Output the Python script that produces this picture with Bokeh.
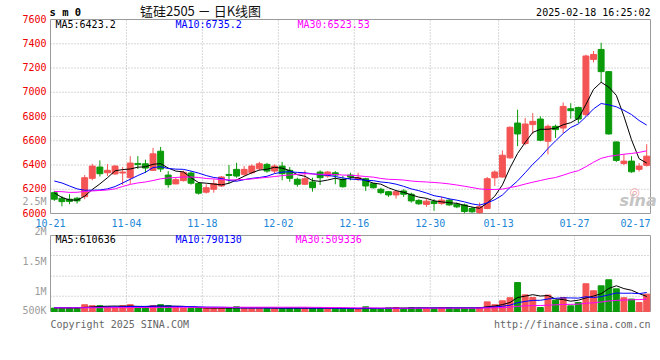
from bokeh.plotting import figure
from bokeh.models import Range1d, Label, ColumnDataSource
from bokeh.embed import file_html
from bokeh.resources import INLINE
from bokeh.core.properties import value

# ---------------- data ----------------
dates = ["10-21", "10-22", "10-23", "10-24", "10-25", "10-28", "10-29", "10-30", "10-31", "11-01",
         "11-04", "11-05", "11-06", "11-07", "11-08", "11-11", "11-12", "11-13", "11-14", "11-15",
         "11-18", "11-19", "11-20", "11-21", "11-22", "11-25", "11-26", "11-27", "11-28", "11-29",
         "12-02", "12-03", "12-04", "12-05", "12-06", "12-09", "12-10", "12-11", "12-12", "12-13",
         "12-16", "12-17", "12-18", "12-19", "12-20", "12-23", "12-24", "12-25", "12-26", "12-27",
         "12-30", "12-31", "01-02", "01-03", "01-06", "01-07", "01-08", "01-09", "01-10",
         "01-13", "01-14", "01-15", "01-16", "01-17", "01-20", "01-21", "01-22", "01-23", "01-24",
         "01-27", "02-05", "02-06", "02-07", "02-10", "02-11", "02-12", "02-13", "02-14", "02-17"]

opens = [6172, 6126, 6118, 6126, 6139, 6290, 6383, 6336, 6326, 6334,
         6295, 6413, 6410, 6356, 6514, 6317, 6244, 6271, 6334, 6248,
         6176, 6200, 6227, 6322, 6364, 6323, 6336, 6369, 6405, 6350,
         6391, 6356, 6282, 6241, 6260, 6342, 6309, 6336, 6282, 6317,
         6282, 6287, 6246, 6200, 6180, 6153, 6186, 6159, 6108, 6075,
         6098, 6082, 6110, 6077, 6071, 6041, 6008, 6041, 6295,
         6301, 6459, 6746, 6577, 6733, 6779, 6596, 6719, 6705, 6864,
         6875, 6815, 7271, 7353, 7170, 6590, 6412, 6432, 6364, 6397]
highs = [6186, 6145, 6159, 6137, 6317, 6410, 6438, 6408, 6399, 6383,
         6473, 6473, 6444, 6541, 6549, 6350, 6301, 6354, 6348, 6260,
         6241, 6282, 6309, 6400, 6418, 6391, 6405, 6426, 6418, 6405,
         6426, 6383, 6295, 6356, 6295, 6356, 6350, 6350, 6309, 6336,
         6336, 6295, 6252, 6213, 6186, 6186, 6200, 6172, 6118, 6123,
         6118, 6139, 6123, 6090, 6082, 6055, 6090, 6301, 6356,
         6520, 6719, 6856, 6787, 6828, 6801, 6733, 6733, 6916, 6910,
         6880, 7310, 7340, 7408, 7175, 6595, 6490, 6473, 6416, 6572]
lows = [6104, 6059, 6077, 6082, 6118, 6274, 6305, 6309, 6321, 6235,
        6244, 6367, 6334, 6350, 6342, 6213, 6241, 6264, 6238, 6156,
        6164, 6172, 6219, 6250, 6295, 6309, 6323, 6356, 6336, 6328,
        6274, 6262, 6221, 6236, 6180, 6235, 6295, 6241, 6213, 6274,
        6268, 6186, 6205, 6159, 6137, 6123, 6137, 6090, 6071, 6055,
        6022, 6071, 6063, 6044, 6003, 6005, 5998, 6036, 6227,
        6295, 6451, 6555, 6563, 6656, 6596, 6487, 6623, 6664, 6782,
        6746, 6801, 7246, 7082, 6651, 6426, 6399, 6336, 6346, 6387]
closes = [6118, 6098, 6100, 6104, 6295, 6391, 6328, 6356, 6391, 6342,
          6416, 6403, 6375, 6492, 6367, 6238, 6279, 6340, 6250, 6168,
          6213, 6246, 6301, 6314, 6309, 6364, 6391, 6410, 6350, 6391,
          6328, 6290, 6241, 6287, 6213, 6295, 6342, 6317, 6221, 6301,
          6295, 6227, 6213, 6172, 6153, 6180, 6159, 6104, 6080, 6102,
          6082, 6110, 6071, 6055, 6016, 6014, 6057, 6287, 6342,
          6481, 6711, 6656, 6738, 6760, 6604, 6719, 6692, 6883, 6848,
          6779, 7299, 7312, 7170, 6656, 6438, 6432, 6344, 6391, 6473]

ma5 = [6170, 6132, 6112, 6110, 6143, 6198, 6244, 6295, 6352, 6362,
       6367, 6382, 6385, 6406, 6411, 6375, 6350, 6343, 6295, 6255,
       6250, 6243, 6236, 6249, 6277, 6307, 6336, 6358, 6365, 6381,
       6374, 6354, 6320, 6307, 6272, 6265, 6276, 6291, 6278, 6295,
       6295, 6272, 6251, 6242, 6212, 6189, 6175, 6154, 6135, 6125,
       6105, 6096, 6089, 6084, 6067, 6053, 6043, 6086, 6143,
       6236, 6376, 6495, 6586, 6669, 6694, 6695, 6703, 6732, 6749,
       6784, 6900, 7024, 7082, 7043, 6975, 6802, 6608, 6452, 6416]
ma10 = [6268, 6252, 6227, 6203, 6192, 6192, 6194, 6203, 6222, 6252,
        6282, 6313, 6340, 6379, 6386, 6371, 6366, 6364, 6350, 6333,
        6313, 6297, 6289, 6272, 6266, 6279, 6290, 6297, 6307, 6329,
        6341, 6345, 6339, 6336, 6327, 6320, 6315, 6305, 6293, 6284,
        6280, 6274, 6271, 6260, 6254, 6242, 6224, 6203, 6188, 6169,
        6147, 6136, 6121, 6110, 6096, 6079, 6069, 6087, 6114,
        6152, 6214, 6269, 6336, 6406, 6465, 6536, 6599, 6659, 6709,
        6739, 6798, 6863, 6907, 6896, 6880, 6851, 6816, 6767, 6729]
ma30 = [6182, 6180, 6174, 6175, 6182, 6186, 6190, 6194, 6203, 6223,
        6240, 6252, 6260, 6272, 6286, 6293, 6297, 6301, 6301, 6297,
        6289, 6285, 6280, 6277, 6278, 6280, 6285, 6292, 6298, 6305,
        6312, 6318, 6323, 6329, 6326, 6323, 6323, 6322, 6317, 6315,
        6311, 6305, 6300, 6289, 6282, 6280, 6276, 6268, 6263, 6260,
        6256, 6251, 6244, 6235, 6225, 6214, 6203, 6198, 6198,
        6201, 6214, 6226, 6243, 6258, 6272, 6286, 6297, 6316, 6337,
        6353, 6386, 6423, 6455, 6471, 6480, 6489, 6495, 6504, 6517]

volumes = [140000, 140000, 140000, 140000, 280000, 240000, 240000, 195000, 175000, 240000,
           280000, 165000, 165000, 240000, 280000, 240000, 165000, 140000, 140000, 140000,
           140000, 140000, 140000, 140000, 195000, 140000, 140000, 140000, 140000, 140000,
           125000, 140000, 140000, 140000, 140000, 150000, 150000, 100000, 100000, 110000,
           110000, 195000, 110000, 110000, 150000, 165000, 140000, 165000, 140000, 140000,
           140000, 165000, 165000, 140000, 140000, 140000, 165000, 400000, 280000,
           445000, 570000, 1200000, 690000, 580000, 165000, 680000, 473000, 580000, 236000,
           373000, 1150000, 860000, 1065000, 1315000, 940000, 570000, 515000, 373000, 720000]
vol_ma5 = [150000, 150000, 145000, 145000, 168000, 188000, 208000, 219000, 226000, 218000,
           226000, 211000, 205000, 218000, 226000, 218000, 218000, 213000, 193000, 165000,
           145000, 140000, 140000, 140000, 151000, 151000, 151000, 151000, 151000, 140000,
           137000, 137000, 137000, 137000, 137000, 142000, 144000, 136000, 128000, 122000,
           114000, 123000, 125000, 127000, 135000, 146000, 135000, 146000, 152000, 150000,
           145000, 150000, 150000, 150000, 150000, 150000, 150000, 197000, 225000,
           286000, 372000, 579000, 637000, 697000, 641000, 663000, 518000, 496000, 427000,
           468000, 562000, 640000, 737000, 953000, 1066000, 950000, 881000, 743000, 624000]
vol_ma10 = [160000, 160000, 160000, 162000, 165000, 170000, 178000, 185000, 190000, 193000,
            207000, 210000, 212000, 222000, 222000, 222000, 215000, 209000, 206000, 196000,
            182000, 179000, 177000, 167000, 158000, 148000, 146000, 146000, 146000, 146000,
            144000, 144000, 144000, 144000, 139000, 140000, 141000, 137000, 133000, 130000,
            128000, 134000, 131000, 128000, 129000, 130000, 129000, 136000, 140000, 143000,
            146000, 143000, 148000, 151000, 150000, 148000, 150000, 174000, 188000,
            218000, 261000, 365000, 417000, 461000, 464000, 518000, 548000, 566000, 562000,
            555000, 613000, 579000, 616000, 690000, 767000, 756000, 760000, 740000, 788000]
vol_ma30 = [150000, 150000, 150000, 152000, 154000, 155000, 157000, 158000, 160000, 162000,
            163000, 165000, 166000, 168000, 170000, 170000, 171000, 172000, 173000, 174000,
            174000, 175000, 175000, 176000, 176000, 177000, 177000, 178000, 178000, 178000,
            178000, 178000, 178000, 178000, 173000, 170000, 167000, 164000, 161000, 157000,
            151000, 152000, 150000, 146000, 142000, 139000, 138000, 139000, 139000, 139000,
            139000, 140000, 141000, 141000, 139000, 139000, 140000, 149000, 153000,
            163000, 178000, 214000, 232000, 247000, 247000, 265000, 276000, 292000, 296000,
            305000, 340000, 362000, 394000, 434000, 460000, 474000, 486000, 493000, 513000]

price_ticks = [6000, 6200, 6400, 6600, 6800, 7000, 7200, 7400, 7600]
date_ticks = ["10-21", "11-04", "11-18", "12-02", "12-16", "12-30", "01-13", "01-27"]
last_date_label = "02-17"
vol_axis_labels = ["2.5M", "2M", "1.5M", "1M", "500K"]
vol_max = 3150000
vol_grid_values = [634000, 1463000, 2321000]

symbol_text = "s m 0"
title_text = "锰硅2505 － 日K线图"
time_text = "2025-02-18 16:25:02"
price_legend = ["MA5:6423.2", "MA10:6735.2", "MA30:6523.53"]
vol_legend = ["MA5:610636", "MA10:790130", "MA30:509336"]
copyright_text = "Copyright 2025 SINA.COM"
url_text = "http://finance.sina.com.cn"

# ---------------- layout / styling ----------------
W, H = 656, 340
PX_L, PX_R = 50, 650        # panel left / right edge (px)
P_TOP, P_BOT = 19, 213      # price panel top / bottom (px)
V_TOP, V_BOT = 235, 311     # volume panel top / bottom (px)

MONO = "DejaVu Sans Mono"
CJK = "Noto Sans CJK SC"
RED = "#f45454"
GREEN = "#0a9a0a"
BLUE_TXT = "#1c86d6"
GRID = "#b0b0b0"
BORDER = "#9a9a9a"
AXIS_GRAY = "#9c9c9c"
MA_COLORS = ["#000000", "#0000ff", "#ff00ff"]

n = len(dates)
p_lo, p_hi = price_ticks[0], price_ticks[-1]
ux = (PX_R - PX_L) / n                 # px per slot
up = (P_BOT - P_TOP) / (p_hi - p_lo)   # px per price unit
uv = (V_BOT - V_TOP) / vol_max         # px per lot

x_range = Range1d(-PX_L / ux, n + (W - PX_R) / ux)
y_range = Range1d(p_lo - (H - P_BOT) / up, p_hi + P_TOP / up)
vol_range = Range1d(-(H - V_BOT) / uv, vol_max + V_TOP / uv)

p = figure(width=W, height=H, x_range=x_range, y_range=y_range,
           x_axis_type=None, y_axis_type=None, min_border=0,
           output_backend="svg", toolbar_location=None)
p.extra_y_ranges = {"vol": vol_range}
p.outline_line_color = None
p.background_fill_color = "white"
p.border_fill_color = "white"

xs = [i + 0.5 for i in range(n)]
colors = [RED if c >= o else GREEN for o, c in zip(opens, closes)]
src = ColumnDataSource(dict(
    x=xs, h=highs, l=lows,
    top=[max(o, c) for o, c in zip(opens, closes)],
    bottom=[min(o, c) for o, c in zip(opens, closes)],
    color=colors, ma5=ma5, ma10=ma10, ma30=ma30,
    vol=volumes, vma5=vol_ma5, vma10=vol_ma10, vma30=vol_ma30,
))

date_idx = [dates.index(d) for d in date_ticks]
vx = date_idx[1:]
hp = price_ticks[1:-1]

# grids (dotted)
p.segment(x0=[0] * len(hp), x1=[n] * len(hp), y0=hp, y1=hp,
          line_color=GRID, line_dash="1 2", line_width=1)
p.segment(x0=vx, x1=vx, y0=[p_lo] * len(vx), y1=[p_hi] * len(vx),
          line_color=GRID, line_dash="1 2", line_width=1)
p.segment(x0=[0] * len(vol_grid_values), x1=[n] * len(vol_grid_values),
          y0=vol_grid_values, y1=vol_grid_values, y_range_name="vol",
          line_color=GRID, line_dash="1 2", line_width=1)
p.segment(x0=vx, x1=vx, y0=[0] * len(vx), y1=[vol_max] * len(vx), y_range_name="vol",
          line_color=GRID, line_dash="1 2", line_width=1)

# panel borders
p.quad(left=[0], right=[n], bottom=[p_lo], top=[p_hi], fill_color=None, line_color=BORDER)
p.quad(left=[0], right=[n], bottom=[0], top=[vol_max], fill_color=None, line_color=BORDER,
       y_range_name="vol")

# candles
p.segment(x0="x", y0="l", x1="x", y1="h", line_color="color", line_width=1, source=src)
p.vbar(x="x", width=0.78, top="top", bottom="bottom", fill_color="color", line_color="color",
       line_width=1, source=src)
for col, colr in zip(["ma5", "ma10", "ma30"], MA_COLORS):
    p.line(x="x", y=col, line_color=colr, line_width=1, source=src)

# volume
p.vbar(x="x", width=0.78, top="vol", bottom=0, fill_color="color", line_color="color",
       source=src, y_range_name="vol")
for col, colr in zip(["vma5", "vma10", "vma30"], MA_COLORS):
    p.line(x="x", y=col, line_color=colr, line_width=1, source=src, y_range_name="vol")

# price tick labels (red) and date labels (blue)
p.text(x=[0] * len(price_ticks), y=price_ticks, text=[str(t) for t in price_ticks],
       x_offset=-4, y_offset=-1, text_align="right", text_baseline="middle",
       text_color="#ee0000", text_font=value(MONO), text_font_size=value("10px"))
p.text(x=date_idx, y=[p_lo] * len(date_idx), text=date_ticks, y_offset=9,
       text_align="center", text_baseline="middle",
       text_color=BLUE_TXT, text_font=value(MONO), text_font_size=value("10px"))
p.text(x=[n], y=[p_lo], text=[last_date_label], y_offset=9,
       text_align="right", text_baseline="middle",
       text_color=BLUE_TXT, text_font=value(MONO), text_font_size=value("10px"))


def put(text, px, py, color="#000000", size="10px", font=MONO, align="left", style="normal"):
    p.add_layout(Label(x=px, y=H - py, x_units="screen", y_units="screen", text=text,
                       text_color=color, text_font_size=size, text_font=font,
                       text_align=align, text_baseline="middle", text_font_style=style))


put(symbol_text, 49, 11.5, size="10.5px", style="bold")
put(title_text, 200, 10, color="#111111", size="13px", font=CJK, align="center")
put(time_text, 650, 12, align="right")
for t, px, colr in zip(price_legend, [55, 175, 297], MA_COLORS):
    put(t, px, 24, color=colr)
for t, px, colr in zip(vol_legend, [55, 175, 295], MA_COLORS):
    put(t, px, 238.5, color=colr)
for t, py in zip(vol_axis_labels, [201, 230.5, 261, 290.7, 310]):
    put(t, 46, py, color=AXIS_GRAY, align="right")
put("◎", 634, 191, color="#f2a6a6", size="12px", font="DejaVu Sans", align="center")
put("sina", 619, 200, color="#c4c4c4", size="16px", font="DejaVu Sans", style="bold italic")
put(copyright_text, 50, 324, color="#666666")
put(url_text, 650, 324, color="#666666", align="right")

open("out.html", "w").write(file_html(p, INLINE))
